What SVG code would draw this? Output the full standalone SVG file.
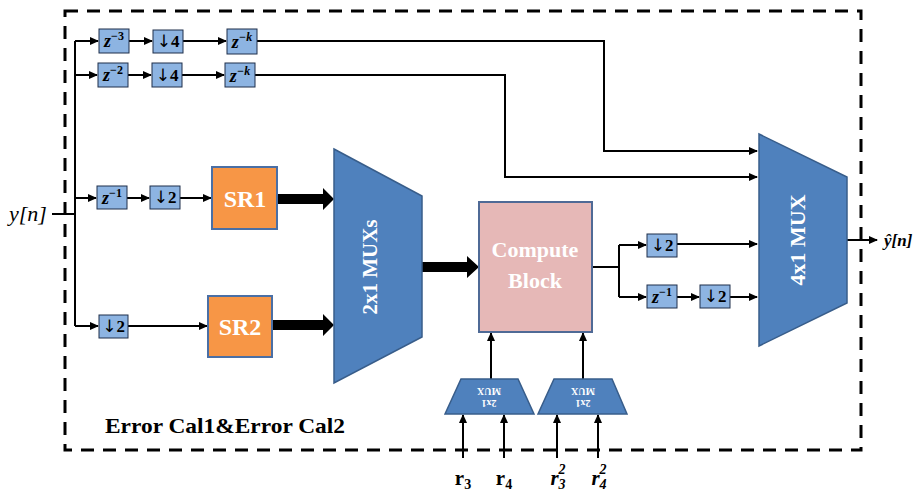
<svg xmlns="http://www.w3.org/2000/svg" width="918" height="492" viewBox="0 0 918 492">
  <style>
    .sb { fill: #8DB4E2; stroke: #1F2F4A; stroke-width: 1; }
    .mux { fill: #4F81BD; stroke: #385D8A; stroke-width: 1.5; }
    .sr { fill: #F79646; stroke: #4A6FA5; stroke-width: 2; }
    .wire { fill: none; stroke: #000; stroke-width: 2; }
    .math { font-family: "Liberation Serif", "DejaVu Serif", serif; font-weight: bold; font-style: italic; font-size: 18px; fill: #000; }
    .sup { font-size: 12px; }
    .dn { font-family: "Liberation Serif", "DejaVu Serif", serif; font-weight: bold; font-size: 17px; fill: #000; }
    .arr { font-family: "DejaVu Sans", sans-serif; font-weight: normal; font-size: 17px; }
    .big { font-family: "Liberation Serif", serif; font-weight: bold; fill: #fff; }
    .lbl { font-family: "Liberation Serif", serif; font-weight: bold; fill: #000; }
  </style>
  <defs>
    <marker id="ah" markerWidth="9" markerHeight="8" refX="8" refY="4" orient="auto" markerUnits="userSpaceOnUse">
      <path d="M0,0 L9,4 L0,8 Z" fill="#000"/>
    </marker>
  </defs>

  <!-- enclosing boundary -->
  <rect x="65" y="11" width="796" height="439" fill="none" stroke="#000" stroke-width="3" stroke-dasharray="13 9"/>

  <!-- connectors -->
  <g id="connectors">
    <path class="wire" d="M52,214 H75"/>
    <path class="wire" d="M75,41 V326"/>
    <path class="wire" d="M75,41 H98" marker-end="url(#ah)"/>
    <path class="wire" d="M129,41 H152" marker-end="url(#ah)"/>
    <path class="wire" d="M183,41 H226" marker-end="url(#ah)"/>
    <path class="wire" d="M257,41 H604 V151 H757" marker-end="url(#ah)"/>
    <path class="wire" d="M75,75 H97" marker-end="url(#ah)"/>
    <path class="wire" d="M128,75 H151" marker-end="url(#ah)"/>
    <path class="wire" d="M182,75 H224" marker-end="url(#ah)"/>
    <path class="wire" d="M255,75 H505 V177 H757" marker-end="url(#ah)"/>
    <path class="wire" d="M75,198 H96" marker-end="url(#ah)"/>
    <path class="wire" d="M127,198 H149" marker-end="url(#ah)"/>
    <path class="wire" d="M180,198 H211" marker-end="url(#ah)"/>
    <path class="wire" d="M75,326 H98" marker-end="url(#ah)"/>
    <path class="wire" d="M128,326 H207" marker-end="url(#ah)"/>
    <!-- bus arrows -->
    <path d="M277,194 H323 V188 L334,199 L323,210 V204 H277 Z" fill="#000"/>
    <path d="M272,320 H323 V314 L334,325 L323,336 V330 H272 Z" fill="#000"/>
    <path d="M422,262 H467 V256 L479,267 L467,278 V272 H422 Z" fill="#000"/>
    <!-- compute block outputs -->
    <path class="wire" d="M592,267 H619"/>
    <path class="wire" d="M619,245 V297"/>
    <path class="wire" d="M619,245 H646" marker-end="url(#ah)"/>
    <path class="wire" d="M619,297 H646" marker-end="url(#ah)"/>
    <path class="wire" d="M677,244 H757" marker-end="url(#ah)"/>
    <path class="wire" d="M677,297 H699" marker-end="url(#ah)"/>
    <path class="wire" d="M730,297 H757" marker-end="url(#ah)"/>
    <path class="wire" d="M847,240 H877" marker-end="url(#ah)"/>
    <!-- select muxes to compute block -->
    <path class="wire" d="M491,379 V333" marker-end="url(#ah)"/>
    <path class="wire" d="M583,379 V333" marker-end="url(#ah)"/>
    <path class="wire" d="M463,458 V415" marker-end="url(#ah)"/>
    <path class="wire" d="M504,458 V415" marker-end="url(#ah)"/>
    <path class="wire" d="M557,458 V415" marker-end="url(#ah)"/>
    <path class="wire" d="M598,458 V415" marker-end="url(#ah)"/>
  </g>

  <!-- input label -->
  <text x="9" y="221" font-family="Liberation Serif, serif" font-style="italic" font-size="22">y[n]</text>

  <!-- row 1 -->
  <g id="d3">
    <rect class="sb" x="99" y="29" width="30" height="24"/>
    <text class="math" x="114" y="47" text-anchor="middle">z<tspan class="sup" dy="-7" font-style="normal">−3</tspan></text>
  </g>
  <g id="ds4a">
    <rect class="sb" x="153" y="30" width="30" height="23"/>
    <text class="dn" x="168" y="47" text-anchor="middle"><tspan class="arr">↓</tspan>4</text>
  </g>
  <g id="dka">
    <rect class="sb" x="227" y="29" width="30" height="25"/>
    <text class="math" x="242" y="48" text-anchor="middle">z<tspan class="sup" dy="-7">−k</tspan></text>
  </g>

  <!-- row 2 -->
  <g id="d2">
    <rect class="sb" x="98" y="63" width="30" height="24"/>
    <text class="math" x="113" y="81" text-anchor="middle">z<tspan class="sup" dy="-7" font-style="normal">−2</tspan></text>
  </g>
  <g id="ds4b">
    <rect class="sb" x="152" y="63" width="30" height="24"/>
    <text class="dn" x="167" y="81" text-anchor="middle"><tspan class="arr">↓</tspan>4</text>
  </g>
  <g id="dkb">
    <rect class="sb" x="225" y="63" width="30" height="24"/>
    <text class="math" x="240" y="82" text-anchor="middle">z<tspan class="sup" dy="-7">−k</tspan></text>
  </g>

  <!-- row 3 -->
  <g id="d1a">
    <rect class="sb" x="97" y="186" width="30" height="23"/>
    <text class="math" x="112" y="204" text-anchor="middle">z<tspan class="sup" dy="-7" font-style="normal">−1</tspan></text>
  </g>
  <g id="ds2a">
    <rect class="sb" x="150" y="186" width="30" height="23"/>
    <text class="dn" x="165" y="203" text-anchor="middle"><tspan class="arr">↓</tspan>2</text>
  </g>
  <g id="sr1">
    <rect class="sr" x="212" y="167" width="65" height="62"/>
    <text class="big" x="245" y="207" font-size="24" text-anchor="middle">SR1</text>
  </g>

  <!-- row 4 -->
  <g id="ds2b">
    <rect class="sb" x="99" y="315" width="29" height="23"/>
    <text class="dn" x="113.5" y="332" text-anchor="middle"><tspan class="arr">↓</tspan>2</text>
  </g>
  <g id="sr2">
    <rect class="sr" x="208" y="296" width="64" height="61"/>
    <text class="big" x="240" y="335" font-size="24" text-anchor="middle">SR2</text>
  </g>

  <!-- 2x1 mux bank -->
  <g id="mux2">
    <path class="mux" d="M334,149 L422,196 L422,337 L334,383 Z"/>
    <text class="big" font-size="21" text-anchor="middle" transform="translate(377,267) rotate(-90)">2x1 MUXs</text>
  </g>

  <!-- compute block -->
  <g id="compute">
    <rect x="479" y="202" width="113" height="130" fill="#E6B8B7" stroke="#4F6A96" stroke-width="2"/>
    <text class="big" x="535" y="257" font-size="22" text-anchor="middle">Compute</text>
    <text class="big" x="535" y="288" font-size="22" text-anchor="middle">Block</text>
  </g>

  <!-- output branch -->
  <g id="ds2c">
    <rect class="sb" x="647" y="234" width="30" height="23"/>
    <text class="dn" x="662" y="251" text-anchor="middle"><tspan class="arr">↓</tspan>2</text>
  </g>
  <g id="d1b">
    <rect class="sb" x="647" y="285" width="30" height="23"/>
    <text class="math" x="662" y="303" text-anchor="middle">z<tspan class="sup" dy="-7" font-style="normal">−1</tspan></text>
  </g>
  <g id="ds2d">
    <rect class="sb" x="700" y="285" width="30" height="23"/>
    <text class="dn" x="715" y="302" text-anchor="middle"><tspan class="arr">↓</tspan>2</text>
  </g>

  <!-- 4x1 output mux -->
  <g id="mux4">
    <path class="mux" d="M759,134 L847,177 L847,303 L759,346 Z"/>
    <text class="big" font-size="22" text-anchor="middle" transform="translate(805,240) rotate(-90)">4x1 MUX</text>
  </g>
  <text x="884" y="246" font-family="Liberation Serif, serif" font-weight="bold" font-style="italic" font-size="17">ŷ[n]</text>

  <!-- coefficient select muxes -->
  <g id="selA">
    <path class="mux" d="M461,379 L518,379 L534,414 L445,414 Z" stroke-width="1"/>
    <text class="big" font-size="10" text-anchor="middle" font-weight="normal" transform="translate(489,396) rotate(180)">
      <tspan x="0" y="-4">2x1</tspan><tspan x="0" y="8">MUX</tspan>
    </text>
  </g>
  <g id="selB">
    <path class="mux" d="M554,379 L612,379 L627,414 L538,414 Z" stroke-width="1"/>
    <text class="big" font-size="10" text-anchor="middle" font-weight="normal" transform="translate(583,396) rotate(180)">
      <tspan x="0" y="-4">2x1</tspan><tspan x="0" y="8">MUX</tspan>
    </text>
  </g>

  <!-- select inputs -->
  <text class="lbl" x="463" y="485" font-size="21" text-anchor="middle">r<tspan font-size="14" dy="4">3</tspan></text>
  <text class="lbl" x="504" y="485" font-size="21" text-anchor="middle">r<tspan font-size="14" dy="4">4</tspan></text>
  <text class="lbl" x="558" y="485" font-size="21" font-style="italic" text-anchor="middle">r<tspan font-size="14" dy="4">3</tspan><tspan font-size="14" dx="-7" dy="-15">2</tspan></text>
  <text class="lbl" x="599" y="485" font-size="21" font-style="italic" text-anchor="middle">r<tspan font-size="14" dy="4">4</tspan><tspan font-size="14" dx="-7" dy="-15">2</tspan></text>

  <!-- block caption -->
  <text class="lbl" x="105" y="433" font-size="22" textLength="240" lengthAdjust="spacingAndGlyphs">Error Cal1&amp;Error Cal2</text>
</svg>
